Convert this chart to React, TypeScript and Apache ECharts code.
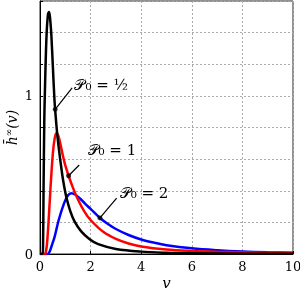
import React, { useEffect, useRef } from "react";
import * as echarts from "echarts";

const blackCurve: [number, number][] = [
  [0, 0], [0.1, 0], [0.12, 0.05], [0.14, 0.4], [0.17, 0.85], [0.19, 1.0], [0.23, 1.25],
  [0.27, 1.42], [0.32, 1.52], [0.36, 1.53], [0.41, 1.47], [0.45, 1.38], [0.51, 1.18],
  [0.57, 0.98], [0.62, 0.87], [0.68, 0.76], [0.75, 0.66], [0.83, 0.56], [0.91, 0.47],
  [1.04, 0.36], [1.2, 0.27], [1.37, 0.205], [1.62, 0.145], [1.95, 0.095], [2.3, 0.062],
  [3, 0.032], [4, 0.015], [5, 0.008], [6, 0.005], [8, 0.002], [10, 0.001],
];
const redCurve: [number, number][] = [
  [0, 0], [0.2, 0], [0.24, 0.02], [0.28, 0.07], [0.34, 0.21], [0.42, 0.43], [0.51, 0.64],
  [0.58, 0.73], [0.65, 0.765], [0.72, 0.75], [0.8, 0.7], [0.9, 0.625], [1.0, 0.56],
  [1.13, 0.495], [1.3, 0.42], [1.5, 0.345], [1.75, 0.27], [2.0, 0.215], [2.5, 0.14],
  [3, 0.095], [3.5, 0.066], [4, 0.047], [5, 0.028], [6, 0.019], [7, 0.014], [8, 0.011],
  [9, 0.008], [10, 0.006],
];
const blueCurve: [number, number][] = [
  [0, 0], [0.3, 0], [0.38, 0.015], [0.45, 0.046], [0.58, 0.11], [0.74, 0.215], [0.95, 0.32],
  [1.1, 0.37], [1.24, 0.384], [1.4, 0.375], [1.6, 0.348], [1.77, 0.32], [2.0, 0.285],
  [2.37, 0.228], [2.7, 0.188], [3, 0.158], [3.5, 0.12], [4, 0.092], [4.5, 0.072],
  [5, 0.056], [6, 0.036], [7, 0.024], [8, 0.016], [9, 0.011], [10, 0.008],
];

const seriesColors = ["#000000", "#ff0000", "#0000ff"];
const labels = ["𝒫₀ = ½", "𝒫₀ = 1", "𝒫₀ = 2"];
// anchor on curve, leader end, label left-middle (data units)
const anchors: [number, number][] = [[0.6, 0.915], [1.13, 0.495], [2.37, 0.228]];
const leaderEnds: [number, number][] = [[1.27, 1.05], [1.55, 0.563], [3.03, 0.354]];
const labelPos: [number, number][] = [[1.36, 1.07], [1.88, 0.66], [3.15, 0.385]];

const xTicks = { min: 0, max: 10, interval: 2 };
const yTicks = { min: 0, max: 1.6, interval: 0.2, shown: [0, 1] };

const FONT = "'DejaVu Serif', 'Liberation Serif', serif";

export default function App() {
  const ref = useRef<HTMLDivElement>(null);
  useEffect(() => {
    if (!ref.current) return;
    const chart = echarts.init(ref.current, undefined, { renderer: "svg" });
    const curves = [blackCurve, redCurve, blueCurve];
    chart.setOption({
      animation: false,
      grid: {
        left: 40, top: 1, right: 7, bottom: 37,
        outerBoundsMode: "none", containLabel: false,
        show: true, borderColor: "#222", borderWidth: 1, backgroundColor: "transparent",
      },
      xAxis: {
        type: "value",
        min: xTicks.min,
        max: xTicks.max,
        interval: xTicks.interval,
        name: "v",
        nameLocation: "middle",
        nameGap: 21,
        nameMoveOverlap: false,
        nameTextStyle: { fontFamily: FONT, fontStyle: "italic", fontSize: 15, color: "#000" },
        axisLine: { lineStyle: { color: "#000", width: 1 } },
        axisTick: { inside: true, length: 3, lineStyle: { color: "#000" } },
        axisLabel: { fontFamily: FONT, fontSize: 13, color: "#000", margin: 6 },
        splitLine: { show: true, lineStyle: { color: "#aaa", type: [2, 2], width: 1 } },
      },
      yAxis: {
        type: "value",
        min: yTicks.min,
        max: yTicks.max,
        interval: yTicks.interval,
        name: "{h|h̄}{s|∞}{h|(v)}",
        nameLocation: "middle",
        nameGap: 20,
        nameMoveOverlap: false,
        nameTextStyle: {
          rich: {
            h: { fontFamily: FONT, fontStyle: "italic", fontSize: 14, color: "#000", lineHeight: 16 },
            s: { fontFamily: FONT, fontSize: 9, color: "#000", verticalAlign: "top", lineHeight: 12 },
          },
        },
        axisLine: { lineStyle: { color: "#000", width: 1 } },
        axisTick: { inside: true, length: 3, lineStyle: { color: "#000" } },
        axisLabel: {
          fontFamily: FONT,
          fontSize: 13,
          color: "#000",
          margin: 7,
          formatter: (v: number) => (yTicks.shown.some((s) => Math.abs(s - v) < 1e-9) ? String(Math.round(v)) : ""),
        },
        splitLine: { show: true, lineStyle: { color: "#aaa", type: [2, 2], width: 1 } },
      },
      series: [
        ...curves.map((c, i) => ({
          type: "line",
          data: c,
          smooth: 0.35,
          showSymbol: false,
          lineStyle: { color: seriesColors[i], width: 2.5 },
          z: 3 - i,
        })),
        {
          type: "scatter",
          data: anchors,
          symbolSize: 5,
          itemStyle: { color: "#000" },
          z: 10,
        },
      ],
    });
    const graphics: any[] = [];
    anchors.forEach((a, i) => {
      const p0 = chart.convertToPixel({ gridIndex: 0 }, a) as number[];
      const p1 = chart.convertToPixel({ gridIndex: 0 }, leaderEnds[i]) as number[];
      const pl = chart.convertToPixel({ gridIndex: 0 }, labelPos[i]) as number[];
      graphics.push({
        type: "line",
        shape: { x1: p0[0], y1: p0[1], x2: p1[0], y2: p1[1] },
        style: { stroke: "#000", lineWidth: 1.2 },
        z: 20,
      });
      graphics.push({
        type: "text",
        x: pl[0],
        y: pl[1],
        style: {
          text: labels[i],
          fontFamily: FONT,
          fontSize: 15,
          fill: "#000",
          textVerticalAlign: "middle",
          verticalAlign: "middle",
        },
        z: 20,
      });
    });
    chart.setOption({ graphic: graphics });
    return () => chart.dispose();
  }, []);
  return <div ref={ref} style={{ position: "fixed", left: 0, top: 0, width: 300, height: 291 }} />;
}
